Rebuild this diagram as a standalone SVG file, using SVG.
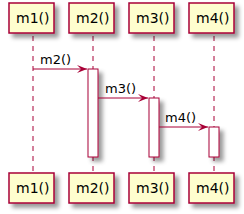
<svg xmlns="http://www.w3.org/2000/svg" width="244" height="214" viewBox="0 0 244 214">
<defs>
<filter id="sh" x="-1" y="-1" width="300%" height="300%">
<feGaussianBlur result="b" stdDeviation="2"/>
<feColorMatrix in="b" result="c" type="matrix" values="0 0 0 0 0 0 0 0 0 0 0 0 0 0 0 0 0 0 .4 0"/>
<feOffset result="o" in="c" dx="4" dy="4"/>
<feBlend in="SourceGraphic" in2="o" mode="normal"/>
</filter>
<marker id="ah" viewBox="0 0 10 8" refX="10" refY="4" markerWidth="10" markerHeight="8" markerUnits="userSpaceOnUse" orient="auto">
<path d="M0,0 L10,4 L0,8 L4,4 Z" fill="#A80036"/>
</marker>
</defs>
<style>
.life{stroke:#A80036;stroke-width:1;stroke-dasharray:5,5;fill:none}
.box{fill:#FEFECE;stroke:#A80036;stroke-width:1.5}
.act{fill:#FFFFFF;stroke:#A80036;stroke-width:1}
.pt{font-family:"DejaVu Sans",sans-serif;font-size:14px;fill:#000}
.msg{font-family:"DejaVu Sans",sans-serif;font-size:13px;fill:#000}
.arr{stroke:#A80036;stroke-width:1;fill:none}
</style>
<g id="lifelines">
<line class="life" x1="33" y1="36" x2="33" y2="174"/>
<line class="life" x1="93" y1="36" x2="93" y2="174"/>
<line class="life" x1="154" y1="36" x2="154" y2="174"/>
<line class="life" x1="214" y1="36" x2="214" y2="174"/>
</g>
<g id="activations">
<rect class="act" x="88" y="69" width="10" height="88" filter="url(#sh)"/>
<rect class="act" x="149" y="98" width="10" height="59" filter="url(#sh)"/>
<rect class="act" x="209" y="127" width="10" height="30" filter="url(#sh)"/>
</g>
<g id="m1">
<rect class="box" x="9" y="3" width="45" height="30" filter="url(#sh)"/>
<text class="pt" x="16" y="23">m1()</text>
<rect class="box" x="9" y="173" width="45" height="30" filter="url(#sh)"/>
<text class="pt" x="16" y="193">m1()</text>
</g>
<g id="m2">
<rect class="box" x="69" y="3" width="45" height="30" filter="url(#sh)"/>
<text class="pt" x="76" y="23">m2()</text>
<rect class="box" x="69" y="173" width="45" height="30" filter="url(#sh)"/>
<text class="pt" x="76" y="193">m2()</text>
</g>
<g id="m3">
<rect class="box" x="129" y="3" width="45" height="30" filter="url(#sh)"/>
<text class="pt" x="136" y="23">m3()</text>
<rect class="box" x="129" y="173" width="45" height="30" filter="url(#sh)"/>
<text class="pt" x="136" y="193">m3()</text>
</g>
<g id="m4">
<rect class="box" x="189" y="3" width="45" height="30" filter="url(#sh)"/>
<text class="pt" x="196" y="23">m4()</text>
<rect class="box" x="189" y="173" width="45" height="30" filter="url(#sh)"/>
<text class="pt" x="196" y="193">m4()</text>
</g>
<g id="connectors">
<line class="arr" x1="33" y1="69" x2="87" y2="69" marker-end="url(#ah)"/>
<text class="msg" x="40" y="64">m2()</text>
<line class="arr" x1="98" y1="98" x2="148" y2="98" marker-end="url(#ah)"/>
<text class="msg" x="105" y="93">m3()</text>
<line class="arr" x1="159" y1="127" x2="208" y2="127" marker-end="url(#ah)"/>
<text class="msg" x="165" y="122">m4()</text>
</g>
</svg>
